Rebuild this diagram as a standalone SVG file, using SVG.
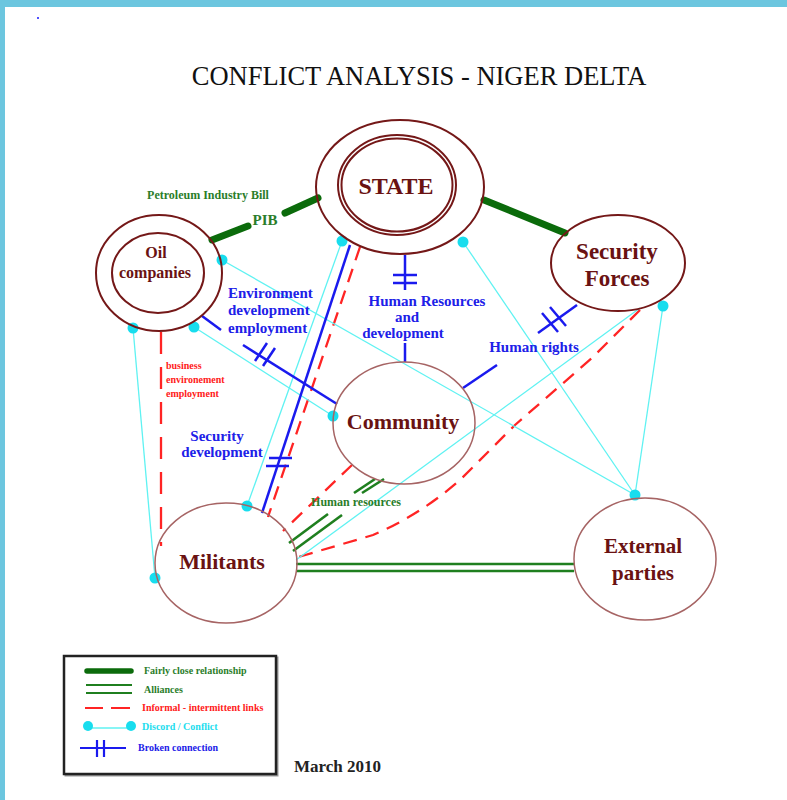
<svg xmlns="http://www.w3.org/2000/svg" width="787" height="800" viewBox="0 0 787 800">
<defs>
<style>
.node{fill:none;stroke:#741818;stroke-width:2}
.thin{fill:none;stroke:#A66464;stroke-width:1.5}
.lbl{font-family:"Liberation Serif","Times New Roman",serif;font-weight:bold;fill:#6A1212;text-anchor:middle}
.close{stroke:#0B6B0B;stroke-width:7;stroke-linecap:round;fill:none}
.ally{stroke:#1F7F1F;stroke-width:2.6;fill:none}
.inf{stroke:#FF2424;stroke-width:2.3;fill:none;stroke-dasharray:22 13}
.inf2{stroke:#FF2424;stroke-width:2.3;fill:none;stroke-dasharray:14 9}
.disc{stroke:#5FF2F2;stroke-width:1.3;fill:none}
.dot{fill:#18DDEE}
.brk{stroke:#1A1AEE;stroke-width:2.5;fill:none}
.bt{font-family:"Liberation Serif","Times New Roman",serif;font-weight:bold;fill:#2020E8;font-size:15px}
.gt{font-family:"Liberation Serif","Times New Roman",serif;font-weight:bold;fill:#2A7D2A}
.rt{font-family:"Liberation Serif","Times New Roman",serif;font-weight:bold;fill:#FF2020;font-size:10px}
.leg{font-family:"Liberation Serif","Times New Roman",serif;font-weight:bold;font-size:10px}
</style>
</defs>
<rect x="0" y="0" width="787" height="800" fill="#FFFFFF"/>
<rect x="0" y="0" width="787" height="7" fill="#6CC6DF"/>
<rect x="0" y="0" width="5" height="800" fill="#6CC6DF"/>
<rect x="37" y="17" width="2" height="2" fill="#5050FF"/>
<text x="419" y="85" font-family="'Liberation Serif','Times New Roman',serif" font-size="26.5" fill="#111" text-anchor="middle">CONFLICT ANALYSIS - NIGER DELTA</text>

<g id="connectors">
  <!-- fairly close -->
  <line class="close" x1="212" y1="240" x2="248" y2="226"/>
  <line class="close" x1="285" y1="213" x2="318" y2="198"/>
  <line class="close" x1="484" y1="200" x2="565" y2="233"/>
  <!-- alliances -->
  <line class="ally" x1="296" y1="564" x2="574" y2="564"/>
  <line class="ally" x1="296" y1="571" x2="574" y2="571"/>
  <line class="ally" x1="289" y1="543" x2="328" y2="514"/>
  <line class="ally" x1="293" y1="551" x2="342" y2="515"/>
  <line class="ally" x1="354" y1="493" x2="375" y2="479"/>
  <line class="ally" x1="362" y1="493" x2="384" y2="479"/>
  <!-- informal -->
  <line class="inf" x1="161" y1="332" x2="161" y2="546"/>
  <line class="inf2" x1="360" y1="247" x2="268" y2="517"/>
  <line class="inf2" x1="352" y1="465" x2="283" y2="531"/>
  <path class="inf2" d="M640,310 L592,358 L515,425 L460,480 Q420,515 373,535 L295,558"/>
  <!-- discord -->
  <line class="disc" x1="222" y1="260" x2="635" y2="495"/>
  <line class="disc" x1="194" y1="327" x2="333" y2="416"/>
  <line class="disc" x1="133" y1="328" x2="155" y2="578"/>
  <line class="disc" x1="342" y1="241" x2="247" y2="506"/>
  <line class="disc" x1="463" y1="242" x2="635" y2="495"/>
  <line class="disc" x1="663" y1="306" x2="635" y2="495"/>
  <line class="disc" x1="640" y1="308" x2="296" y2="560"/>
  <circle class="dot" cx="222" cy="260" r="5.5"/>
  <circle class="dot" cx="194" cy="327" r="5.5"/>
  <circle class="dot" cx="333" cy="416" r="5.5"/>
  <circle class="dot" cx="133" cy="328" r="5.5"/>
  <circle class="dot" cx="155" cy="578" r="5.5"/>
  <circle class="dot" cx="342" cy="241" r="5.5"/>
  <circle class="dot" cx="247" cy="506" r="5.5"/>
  <circle class="dot" cx="463" cy="242" r="5.5"/>
  <circle class="dot" cx="635" cy="495" r="5.5"/>
  <circle class="dot" cx="663" cy="306" r="5.5"/>
  <!-- broken connections -->
  <line class="brk" x1="405" y1="255" x2="405" y2="290"/>
  <line class="brk" x1="393" y1="275" x2="417" y2="275"/>
  <line class="brk" x1="393" y1="283" x2="417" y2="283"/>
  <line class="brk" x1="405" y1="343" x2="405" y2="362"/>
  <line class="brk" x1="577" y1="305" x2="538" y2="333"/>
  <line class="brk" x1="550" y1="307" x2="566" y2="326"/>
  <line class="brk" x1="542" y1="313" x2="558" y2="332"/>
  <line class="brk" x1="497" y1="365" x2="463" y2="388"/>
  <line class="brk" x1="202" y1="316" x2="221" y2="330"/>
  <line class="brk" x1="243" y1="345" x2="337" y2="404"/>
  <line class="brk" x1="267" y1="343" x2="255" y2="361"/>
  <line class="brk" x1="275" y1="348" x2="263" y2="366"/>
  <line class="brk" x1="350" y1="245" x2="262" y2="513"/>
  <line class="brk" x1="269" y1="458" x2="292" y2="458"/>
  <line class="brk" x1="266" y1="466" x2="289" y2="466"/>
  <!-- connector labels -->
  <text class="gt" x="208" y="199" font-size="12" text-anchor="middle">Petroleum Industry Bill</text>
  <text class="gt" x="265" y="225" font-size="15" text-anchor="middle">PIB</text>
  <text class="bt" x="427" y="306" text-anchor="middle">Human Resources</text>
  <text class="bt" x="407" y="322" text-anchor="middle">and</text>
  <text class="bt" x="403" y="338" text-anchor="middle">development</text>
  <text class="bt" x="534" y="352" text-anchor="middle">Human rights</text>
  <text class="bt" x="228" y="298">Environment</text>
  <text class="bt" x="228" y="315">development</text>
  <text class="bt" x="228" y="333">employment</text>
  <text class="bt" x="217" y="441" text-anchor="middle">Security</text>
  <text class="bt" x="222" y="457" text-anchor="middle">development</text>
  <text class="rt" x="166" y="369">business</text>
  <text class="rt" x="166" y="383">environement</text>
  <text class="rt" x="166" y="397">employment</text>
  <text class="gt" x="356" y="506" font-size="12" text-anchor="middle">Human resources</text>
</g>

<g id="state">
  <ellipse class="node" cx="400" cy="187" rx="84" ry="67"/>
  <ellipse class="node" cx="397" cy="185" rx="59" ry="50"/>
  <ellipse class="node" cx="397" cy="185" rx="55.5" ry="46.5"/>
  <text class="lbl" x="396" y="194" font-size="24">STATE</text>
</g>
<g id="oil">
  <ellipse class="node" cx="159" cy="273" rx="63" ry="58"/>
  <ellipse class="node" cx="158" cy="273" rx="46" ry="40" stroke-width="3.2"/>
  <text class="lbl" x="156" y="258" font-size="16">Oil</text>
  <text class="lbl" x="155" y="278" font-size="16">companies</text>
</g>
<g id="security">
  <ellipse class="node" cx="618" cy="263" rx="67" ry="48" stroke-width="3.2"/>
  <text class="lbl" x="617" y="259" font-size="23">Security</text>
  <text class="lbl" x="617" y="286" font-size="23">Forces</text>
</g>
<g id="community">
  <ellipse class="thin" cx="404" cy="423" rx="71" ry="61"/>
  <text class="lbl" x="403" y="429" font-size="22">Community</text>
</g>
<g id="militants">
  <ellipse class="thin" cx="226" cy="563" rx="71" ry="60"/>
  <text class="lbl" x="222" y="569" font-size="22">Militants</text>
</g>
<g id="external">
  <ellipse class="thin" cx="645" cy="559" rx="71" ry="61"/>
  <text class="lbl" x="643" y="553" font-size="21">External</text>
  <text class="lbl" x="643" y="580" font-size="21">parties</text>
</g>

<g id="legend">
  <rect x="64" y="656" width="212" height="118" fill="none" stroke="#999" stroke-width="2" transform="translate(1.5,1.5)"/>
  <rect x="64" y="656" width="212" height="118" fill="#fff" stroke="#222" stroke-width="2.5"/>
  <line x1="87" y1="671" x2="131" y2="671" stroke="#0B6B0B" stroke-width="5.5" stroke-linecap="round"/>
  <text class="leg" x="144" y="674" fill="#2A7D2A">Fairly close relationship</text>
  <line x1="86" y1="685" x2="132" y2="685" stroke="#1F7F1F" stroke-width="2.2"/>
  <line x1="86" y1="693" x2="132" y2="693" stroke="#1F7F1F" stroke-width="2.2"/>
  <text class="leg" x="144" y="693" fill="#2A7D2A">Alliances</text>
  <line x1="85" y1="708" x2="103" y2="708" stroke="#FF2424" stroke-width="2"/>
  <line x1="111" y1="708" x2="130" y2="708" stroke="#FF2424" stroke-width="2"/>
  <text class="leg" x="142" y="711" fill="#FF2020">Informal - intermittent links</text>
  <line x1="88" y1="728" x2="131" y2="728" stroke="#5FF2F2" stroke-width="1.3"/>
  <circle class="dot" cx="88" cy="726" r="5"/>
  <circle class="dot" cx="131" cy="726" r="5"/>
  <text class="leg" x="142" y="730" fill="#22DDEE">Discord / Conflict</text>
  <line x1="80" y1="748" x2="126" y2="748" stroke="#1A1AEE" stroke-width="2.2"/>
  <line x1="97" y1="740" x2="97" y2="757" stroke="#1A1AEE" stroke-width="2.2"/>
  <line x1="104" y1="740" x2="104" y2="757" stroke="#1A1AEE" stroke-width="2.2"/>
  <text class="leg" x="138" y="751" fill="#2020E8">Broken connection</text>
</g>
<text x="294" y="772" font-family="'Liberation Serif','Times New Roman',serif" font-weight="bold" font-size="17" fill="#222">March 2010</text>
</svg>
